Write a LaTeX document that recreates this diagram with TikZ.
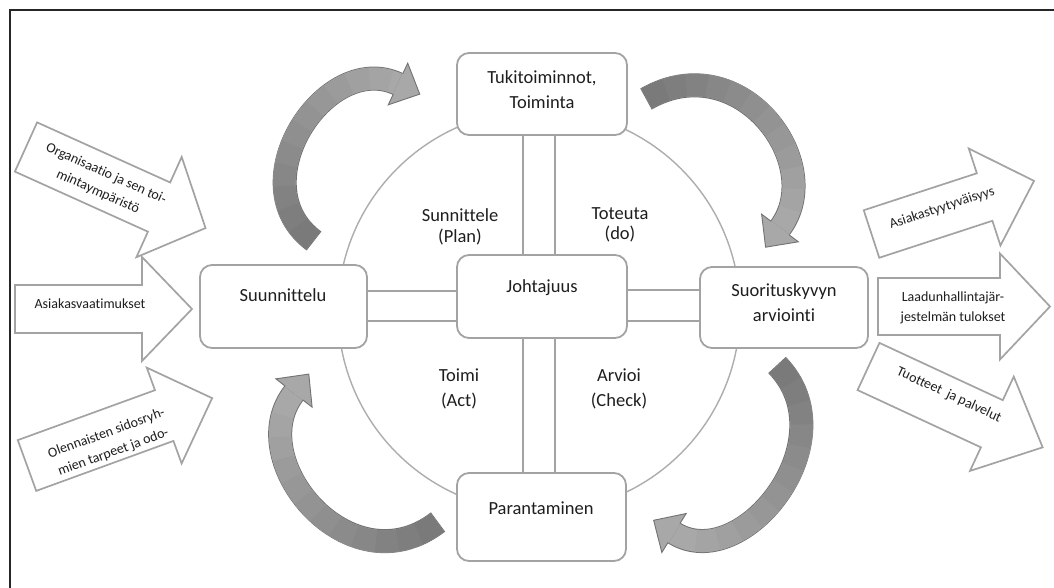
\documentclass[tikz,border=0pt]{standalone}
\usepackage{fontspec}
\setmainfont{Carlito}[Ligatures=NoCommon]
\usetikzlibrary{calc}
\definecolor{cdark}{HTML}{7A7A7A}
\definecolor{clight}{HTML}{A8A8A8}
\definecolor{cline}{HTML}{727272}
\definecolor{boxline}{HTML}{A3A3A3}
\definecolor{ringline}{HTML}{ADADAD}
\definecolor{txt}{HTML}{1E1E1E}

\newcommand\blockArr[6]{%
  \begin{scope}[shift={#1}, rotate=#2]
    \draw[blockline] (0,-#4) -- (#3,-#4) -- (#3,-#6) -- ({#3+#5},0) -- (#3,#6) -- (#3,#4) -- (0,#4) -- cycle;
  \end{scope}}

\newcommand\curvArr[6]{%
  \draw[line width=24pt, draw=cline] #1 .. controls #2 and #3 .. #4;
  \draw[line width=22pt, draw=clight, shorten <=1pt] #1 .. controls #2 and #3 .. #4;
  \foreach \k in {11,10,...,1}{%
    \pgfmathsetmacro\dl{#5*\k/12}%
    \pgfmathsetmacro\pc{100*(12-\k)/11}%
    \draw[line width=22pt, draw=cdark!\pc!clight, shorten <=1pt, dash pattern=on \dl pt off 3000pt] #1 .. controls #2 and #3 .. #4;
  }
  \filldraw[fill=clight, draw=cline, line width=0.9pt, line join=miter] ($#4+(#6:24)$) -- ($#4+(#6+90:23)$) -- ($#4+(#6-90:23)$) -- cycle;
  \draw[line width=22pt, draw=clight] ($#4+(#6:-0.5)$) -- ($#4+(#6:3)$);
}

\begin{document}
\begin{tikzpicture}[x=1pt,y=-1pt,
  box/.style={draw=boxline, line width=1.8pt, fill=white, rounded corners=12pt, inner sep=0pt},
  bar/.style={draw=boxline, line width=1.8pt},
  ring/.style={draw=ringline, line width=1.4pt},
  blockline/.style={draw=boxline, line width=1.7pt, fill=white, line join=miter},
  maintext/.style={font=\fontsize{18.5}{25}\selectfont, text=txt, align=center, inner sep=0pt},
  labeltext/.style={font=\fontsize{18.5}{20.5}\selectfont, text=txt, align=center, inner sep=0pt},
  smalltext/.style={font=\fontsize{14}{20}\selectfont, text=txt, align=center, inner sep=0pt}]
\useasboundingbox (0,0) rectangle (1054,588);
\fill[white] (0,0) rectangle (1054,588);
% frame
\draw[line width=2pt, black!85] (9.5,588) -- (9.5,10) -- (1054,10);

% ring
\draw[ring] (539,311) circle[radius=201];

% boxes
\node[box, minimum width=170pt, minimum height=82pt] (top) at (542,94) {};
\node[box, minimum width=170pt, minimum height=83pt] (mid) at (542,296.5) {};
\node[box, minimum width=167pt, minimum height=83pt] (left) at (283.5,306.5) {};
\node[box, minimum width=168pt, minimum height=81pt] (right) at (784,307.5) {};
\node[box, minimum width=169pt, minimum height=88pt] (bot) at (541.5,517) {};

% bars
\draw[bar] ($(top.south)+(-19,0)$) -- ($(mid.north)+(-19,0)$);
\draw[bar] ($(top.south)+(13,0)$) -- ($(mid.north)+(13,0)$);
\draw[bar] ($(mid.south)+(-19,0)$) -- ($(bot.north)+(-18.5,0)$);
\draw[bar] ($(mid.south)+(13,0)$) -- ($(bot.north)+(13.5,0)$);
\draw[bar] (left.east |- 0,291) -- (mid.west |- 0,291);
\draw[bar] (left.east |- 0,321) -- (mid.west |- 0,321);
\draw[bar] (mid.east |- 0,290) -- (right.west |- 0,290);
\draw[bar] (mid.east |- 0,321) -- (right.west |- 0,321);

% box texts
\node[maintext] (ttop) at (542,89.5) {Tukitoiminnot,\\Toiminta};
\node[maintext] (tmid) at (542,288) {Johtajuus};
\node[maintext] (tleft) at (283,295) {Suunnittelu};
\node[maintext] (tright) at (784,302.5) {Suorituskyvyn\\arviointi};
\node[maintext] (tbot) at (541,508) {Parantaminen};
\node[labeltext] (tplan) at (460,227) {Sunnittele\\(Plan)};
\node[labeltext] (tdo) at (620,225) {Toteuta\\(do)};
\node[maintext] (tact) at (459,388.5) {Toimi\\(Act)};
\node[maintext] (tcheck) at (619,388.5) {Arvioi\\(Check)};

% block arrows
\blockArr{(26,147)}{-24.3}{146}{27}{51}{55}
\blockArr{(15,309)}{0}{127}{24}{50}{52}
\blockArr{(27,465.5)}{20}{146}{27}{51}{51}
\blockArr{(871.5,234)}{18.1}{119}{25}{52}{51}
\blockArr{(878,306.5)}{0}{122}{28.5}{50}{53}
\blockArr{(868.5,366.5)}{-24.9}{136}{26}{56}{52}

\node[smalltext, rotate=-24.3] (a1) at (102,183) {Organisaatio ja sen toi-\\mintaympäristö};
\node[smalltext] (a2) at (90,304) {Asiakasvaatimukset};
\node[smalltext, rotate=20] (a3) at (110,443) {Olennaisten sidosryh-\\mien tarpeet ja odo-};
\node[smalltext, rotate=18.1] (a4) at (942,208) {Asiakastyytyväisyys};
\node[smalltext] (a5) at (953,308) {Laadunhallintajär-\\jestelmän tulokset};
\node[smalltext, rotate=-24.9] (a6) at (949,395) {Tuotteet\ \ ja palvelut};

% curved arrows
\curvArr{(314,241)}{(238,185)}{(325.5,50)}{(398,84)}{255}{25}
\curvArr{(646,99)}{(740,45)}{(828,164)}{(780,228)}{250}{126.9}
\curvArr{(777,365)}{(850,440)}{(742,575.4)}{(674,533)}{260}{212}
\curvArr{(438,522)}{(350,590)}{(241.3,460.2)}{(294,393)}{262}{308}
\end{tikzpicture}
\end{document}
